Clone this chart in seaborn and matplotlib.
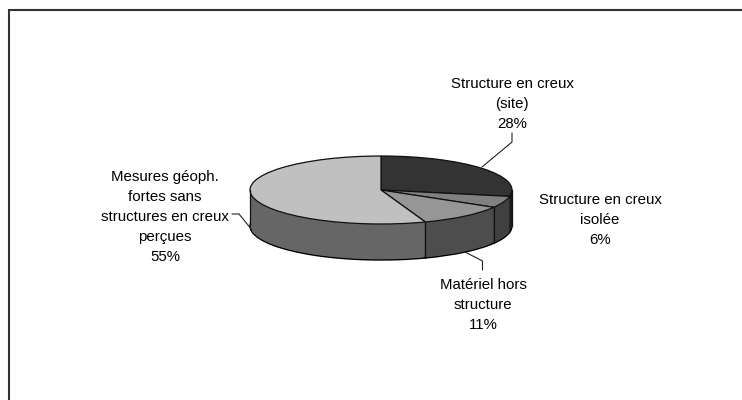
#!/usr/bin/python
import matplotlib
matplotlib.use('Agg')
import matplotlib.pyplot as plt
import numpy as np
import seaborn as sns

labels = ["Structure en creux\n(site)\n28%", "Structure en creux\nisolée\n6%",
          "Matériel hors\nstructure\n11%", "Mesures géoph.\nfortes sans\nstructures en creux\nperçues\n55%"]
values = [28, 5.5, 11, 55.5]
top_colors = ['#333333', '#808080', '#969696', '#C0C0C0']
side_colors = ['#1C1C1C', '#404040', '#4D4D4D', '#666666']

W, H = 742, 400
sns.set_theme(style='white')
plt.rcParams['font.family'] = ['Liberation Sans', 'DejaVu Sans']

fig = plt.figure(figsize=(W / 100, H / 100), dpi=100, facecolor='white')

# pie axes: x radius 131 px, y radius 34 px, wall 36 px
rx, ry, depth = 131, 34, 36
cx, cy = 381, 190
x0, x1 = cx - rx - 5, cx + rx + 5
y0, y1 = cy - ry - 5, cy + ry + depth + 5
ax = fig.add_axes([x0 / W, 1 - y1 / H, (x1 - x0) / W, (y1 - y0) / H])

d = depth / ry
# side wall: stacked pies from the bottom up, the lowest one carries the outline
for i, off in enumerate(np.linspace(-d, 0, 40)):
    ax.pie(values, colors=side_colors, startangle=90, counterclock=False, center=(0, off),
           wedgeprops=dict(linewidth=1.0 if i == 0 else 0, edgecolor='black' if i == 0 else 'none'))
ax.pie(values, colors=top_colors, startangle=90, counterclock=False,
       wedgeprops=dict(linewidth=0.9, edgecolor='#111111'))

# edges between the wall sections that face the viewer
ang = np.cumsum(values) / sum(values) * 2 * np.pi
for a in ang[1:3]:
    ax.plot([np.sin(a)] * 2, [np.cos(a), np.cos(a) - d], color='#111111', lw=0.9)
# outer silhouette of the wall
ax.plot([-1, -1], [0, -d], color='#111111', lw=0.9)
ax.plot([1, 1], [0, -d], color='#111111', lw=0.9)

ax.set_aspect('auto')
ax.set_xlim(-(rx + 5) / rx, (rx + 5) / rx)
ax.set_ylim(-(ry + depth + 5) / ry, (ry + 5) / ry)
ax.axis('off')

# overlay in pixel coordinates for frame, leaders and labels
ov = fig.add_axes([0, 0, 1, 1], facecolor='none')
ov.set_xlim(0, W)
ov.set_ylim(H, 0)
ov.axis('off')

ov.plot([9, 9, W], [H, 10, 10], color='#333333', lw=1.5, solid_joinstyle='miter')

leaders = [([482, 512, 512], [167, 142, 133]),
           ([465, 482.5, 482.5], [252, 261, 270]),
           ([252, 239, 232], [230, 214, 214])]
for lx, ly in leaders:
    ov.plot(lx, ly, color='#222222', lw=0.8)

label_pos = [(512, 104), (600, 220), (483, 305), (165, 217)]
for txt, (tx, ty) in zip(labels, label_pos):
    ov.text(tx, ty, txt, ha='center', va='center', fontsize=10.8, color='black', linespacing=1.56)

fig.savefig('out.png', dpi=100)
